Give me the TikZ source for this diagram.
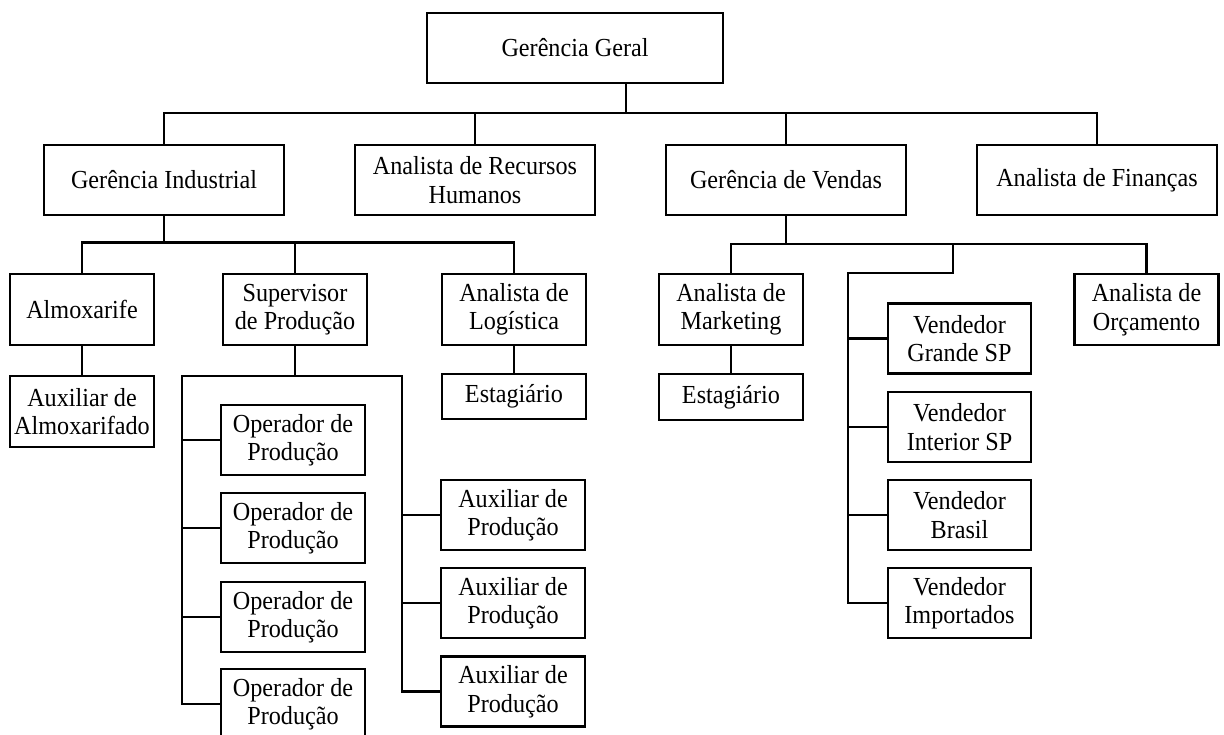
\documentclass[tikz,border=0pt]{standalone}
\usepackage{fontspec}
\setmainfont{Liberation Serif}[FakeStretch=0.93]
\usetikzlibrary{calc}
\tikzset{
  box/.style={draw, line width=2.5pt, inner sep=0pt, align=center,
    minimum width=144pt, minimum height=70pt,
    font=\fontsize{26}{28.5}\selectfont},
  wide/.style={box, minimum width=240pt},
  link/.style={line width=2.5pt, line join=miter}
}
\begin{document}
\begin{tikzpicture}[x=1pt,y=-1pt]
\useasboundingbox (0,0) rectangle (1224,735);
\clip (0,0) rectangle (1224,735);
\fill[white] (0,0) rectangle (1224,735);

% top level
\node[box, minimum width=296pt] (gg) at (575,48) {Gerência Geral};

% directors and analysts
\node[wide] (gi)  at (164,180)  {Gerência Industrial};
\node[wide] (arh) at (475,180)  {Analista de Recursos\\Humanos};
\node[wide] (gv)  at (786,180)  {Gerência de Vendas};
\node[wide] (af)  at (1097,180) {Analista de Finanças};

% industrial branch
\node[box, minimum height=71pt] (alm) at (82,309.5)  {Almoxarife};
\node[box, minimum height=71pt] (sup) at (295,309.5) {Supervisor\\de Produção};
\node[box, minimum height=71pt] (log) at (514,309.5) {Analista de\\Logística};
\node[box, minimum height=71pt] (aux) at (82,411.5)  {Auxiliar de\\Almoxarifado};
\node[box, minimum height=45pt] (estl) at (514,396.5) {Estagiário};

\node[box] (op1) at (293,440) {Operador de\\Produção};
\node[box] (op2) at (293,528) {Operador de\\Produção};
\node[box] (op3) at (293,617) {Operador de\\Produção};
\node[box] (op4) at (293,704) {Operador de\\Produção};

\node[box] (ap1) at (513,515)   {Auxiliar de\\Produção};
\node[box] (ap2) at (513,603)   {Auxiliar de\\Produção};
\node[box] (ap3) at (513,691.5) {Auxiliar de\\Produção};

% sales branch
\node[box, minimum height=71pt] (mkt) at (731,309.5)    {Analista de\\Marketing};
\node[box, minimum height=46pt] (estm) at (731,397)     {Estagiário};
\node[box, minimum height=71pt] (orc) at (1146.5,309.5) {Analista de\\Orçamento};

\node[box, minimum width=143pt] (v1) at (959.5,338.5) {Vendedor\\Grande SP};
\node[box, minimum width=143pt] (v2) at (959.5,427)   {Vendedor\\Interior SP};
\node[box, minimum width=143pt] (v3) at (959.5,515)   {Vendedor\\Brasil};
\node[box, minimum width=143pt] (v4) at (959.5,603)   {Vendedor\\Importados};

% junction points of the connector trees
\coordinate (ggdrop) at (626,113);
\coordinate (opbus)  at (182,376);
\coordinate (apbus)  at (402,376);
\coordinate (vdrop)  at (953,244);
\coordinate (vbus)   at (848,273);

% level 1
\draw[link] (gg.south -| ggdrop) -- (ggdrop);
\draw[link] (gi.north) -- (gi.north |- ggdrop) -| (af.north);
\draw[link] (arh.north) -- (arh.north |- ggdrop);
\draw[link] (gv.north) -- (gv.north |- ggdrop);

% industrial tree
\draw[link] (alm.north) -- ++(0,-30) coordinate (ib) -| (log.north);
\draw[link] (gi.south) -- (gi.south |- ib);
\draw[link] (sup.north) -- (sup.north |- ib);
\draw[link] (alm.south) -- (aux.north);
\draw[link] (log.south) -- (estl.north);
\draw[link] (sup.south) -- (sup.south |- opbus);
\draw[link] (op4.west) -| (opbus) -- (apbus) |- (ap3.west);
\draw[link] (op1.west) -- (op1.west -| opbus);
\draw[link] (op2.west) -- (op2.west -| opbus);
\draw[link] (op3.west) -- (op3.west -| opbus);
\draw[link] (ap1.west) -- (ap1.west -| apbus);
\draw[link] (ap2.west) -- (ap2.west -| apbus);

% sales tree
\draw[link] (mkt.north) -- (mkt.north |- vdrop) -| (orc.north);
\draw[link] (gv.south) -- (gv.south |- vdrop);
\draw[link] (mkt.south) -- (estm.north);
\draw[link] (vdrop) -- (vdrop |- vbus) -- (vbus) |- (v4.west);
\draw[link] (v1.west) -- (v1.west -| vbus);
\draw[link] (v2.west) -- (v2.west -| vbus);
\draw[link] (v3.west) -- (v3.west -| vbus);
\end{tikzpicture}
\end{document}
